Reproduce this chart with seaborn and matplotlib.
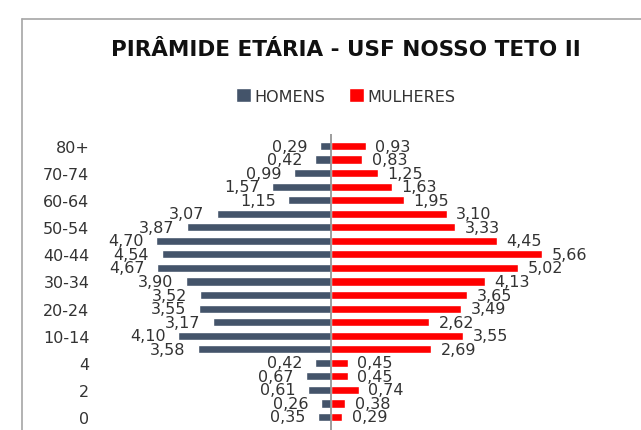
import numpy as np
import pandas as pd
import matplotlib
matplotlib.use('Agg')
import matplotlib.pyplot as plt
import seaborn as sns

# faixas etarias (de cima para baixo)
faixas = ['80+', '75-79', '70-74', '65-69', '60-64', '55-59', '50-54', '45-49',
          '40-44', '35-39', '30-34', '25-29', '20-24', '15-19', '10-14', '5-9',
          '4', '3', '2', '1', '0']
homens = [0.29, 0.42, 0.99, 1.57, 1.15, 3.07, 3.87, 4.70, 4.54, 4.67, 3.90,
          3.52, 3.55, 3.17, 4.10, 3.58, 0.42, 0.67, 0.61, 0.26, 0.35]
mulheres = [0.93, 0.83, 1.25, 1.63, 1.95, 3.10, 3.33, 4.45, 5.66, 5.02, 4.13,
            3.65, 3.49, 2.62, 3.55, 2.69, 0.45, 0.45, 0.74, 0.38, 0.29]
rotulos_y = ['80+', '70-74', '60-64', '50-54', '40-44', '30-34', '20-24',
             '10-14', '4', '2', '0']

df = pd.DataFrame({
    'faixa': faixas * 2,
    'valor': [-h for h in homens] + mulheres,
    'sexo': ['HOMENS'] * len(faixas) + ['MULHERES'] * len(faixas),
})

sns.set_style('white')
plt.rcParams['font.family'] = ['DejaVu Sans']

fig = plt.figure(figsize=(6.41, 4.31), dpi=100)
ax = fig.add_axes([95 / 641, 0, 535 / 641, 296 / 431])
sns.barplot(data=df, y='faixa', x='valor', hue='sexo', order=faixas,
            palette={'HOMENS': '#44546A', 'MULHERES': '#FF0000'},
            dodge=False, width=0.6, orient='h', saturation=1, ax=ax)

ax.set_xlim(-6.33, 8.02)
ax.set_ylim(20.96, -0.886)
ax.axvline(0, color='#8c8c8c', lw=1.2)
for s in ax.spines.values():
    s.set_visible(False)
ax.set_xticks([])
ax.set_yticks([faixas.index(r) for r in rotulos_y])
ax.set_yticklabels(rotulos_y, fontsize=11.5, color='#333333')
ax.tick_params(axis='y', length=0, pad=4)
ax.set_xlabel('')
ax.set_ylabel('')

# rotulos de dados
for i in range(len(faixas)):
    ax.annotate(f'{homens[i]:.2f}'.replace('.', ','), (-homens[i], i),
                xytext=(-9, 0), textcoords='offset points', ha='right',
                va='center', fontsize=11.5, color='#333333')
    ax.annotate(f'{mulheres[i]:.2f}'.replace('.', ','), (mulheres[i], i),
                xytext=(7, 0), textcoords='offset points', ha='left',
                va='center', fontsize=11.5, color='#333333')

sns.move_legend(ax, 'center', bbox_to_anchor=(346 / 641, 1 - 97 / 431),
                bbox_transform=fig.transFigure, ncol=2, frameon=False,
                title=None, handlelength=0.9, handleheight=0.9,
                handletextpad=0.25, columnspacing=1.5,
                prop={'family': 'DejaVu Sans', 'size': 11.5})
for t in ax.get_legend().get_texts():
    t.set_color('#333333')

fig.text(346 / 641, 1 - 50 / 431, 'PIRÂMIDE ETÁRIA - USF NOSSO TETO II',
         ha='center', va='center', fontsize=15.5, fontweight='bold',
         family='DejaVu Sans', color='#111111')

# moldura do grafico
fig.add_artist(plt.Line2D([22 / 641, 22 / 641], [0, 1 - 20 / 431],
                          transform=fig.transFigure, color='#a6a6a6', lw=1.2))
fig.add_artist(plt.Line2D([22 / 641, 1], [1 - 20 / 431, 1 - 20 / 431],
                          transform=fig.transFigure, color='#a6a6a6', lw=1.2))

fig.savefig('out.png', dpi=100)
